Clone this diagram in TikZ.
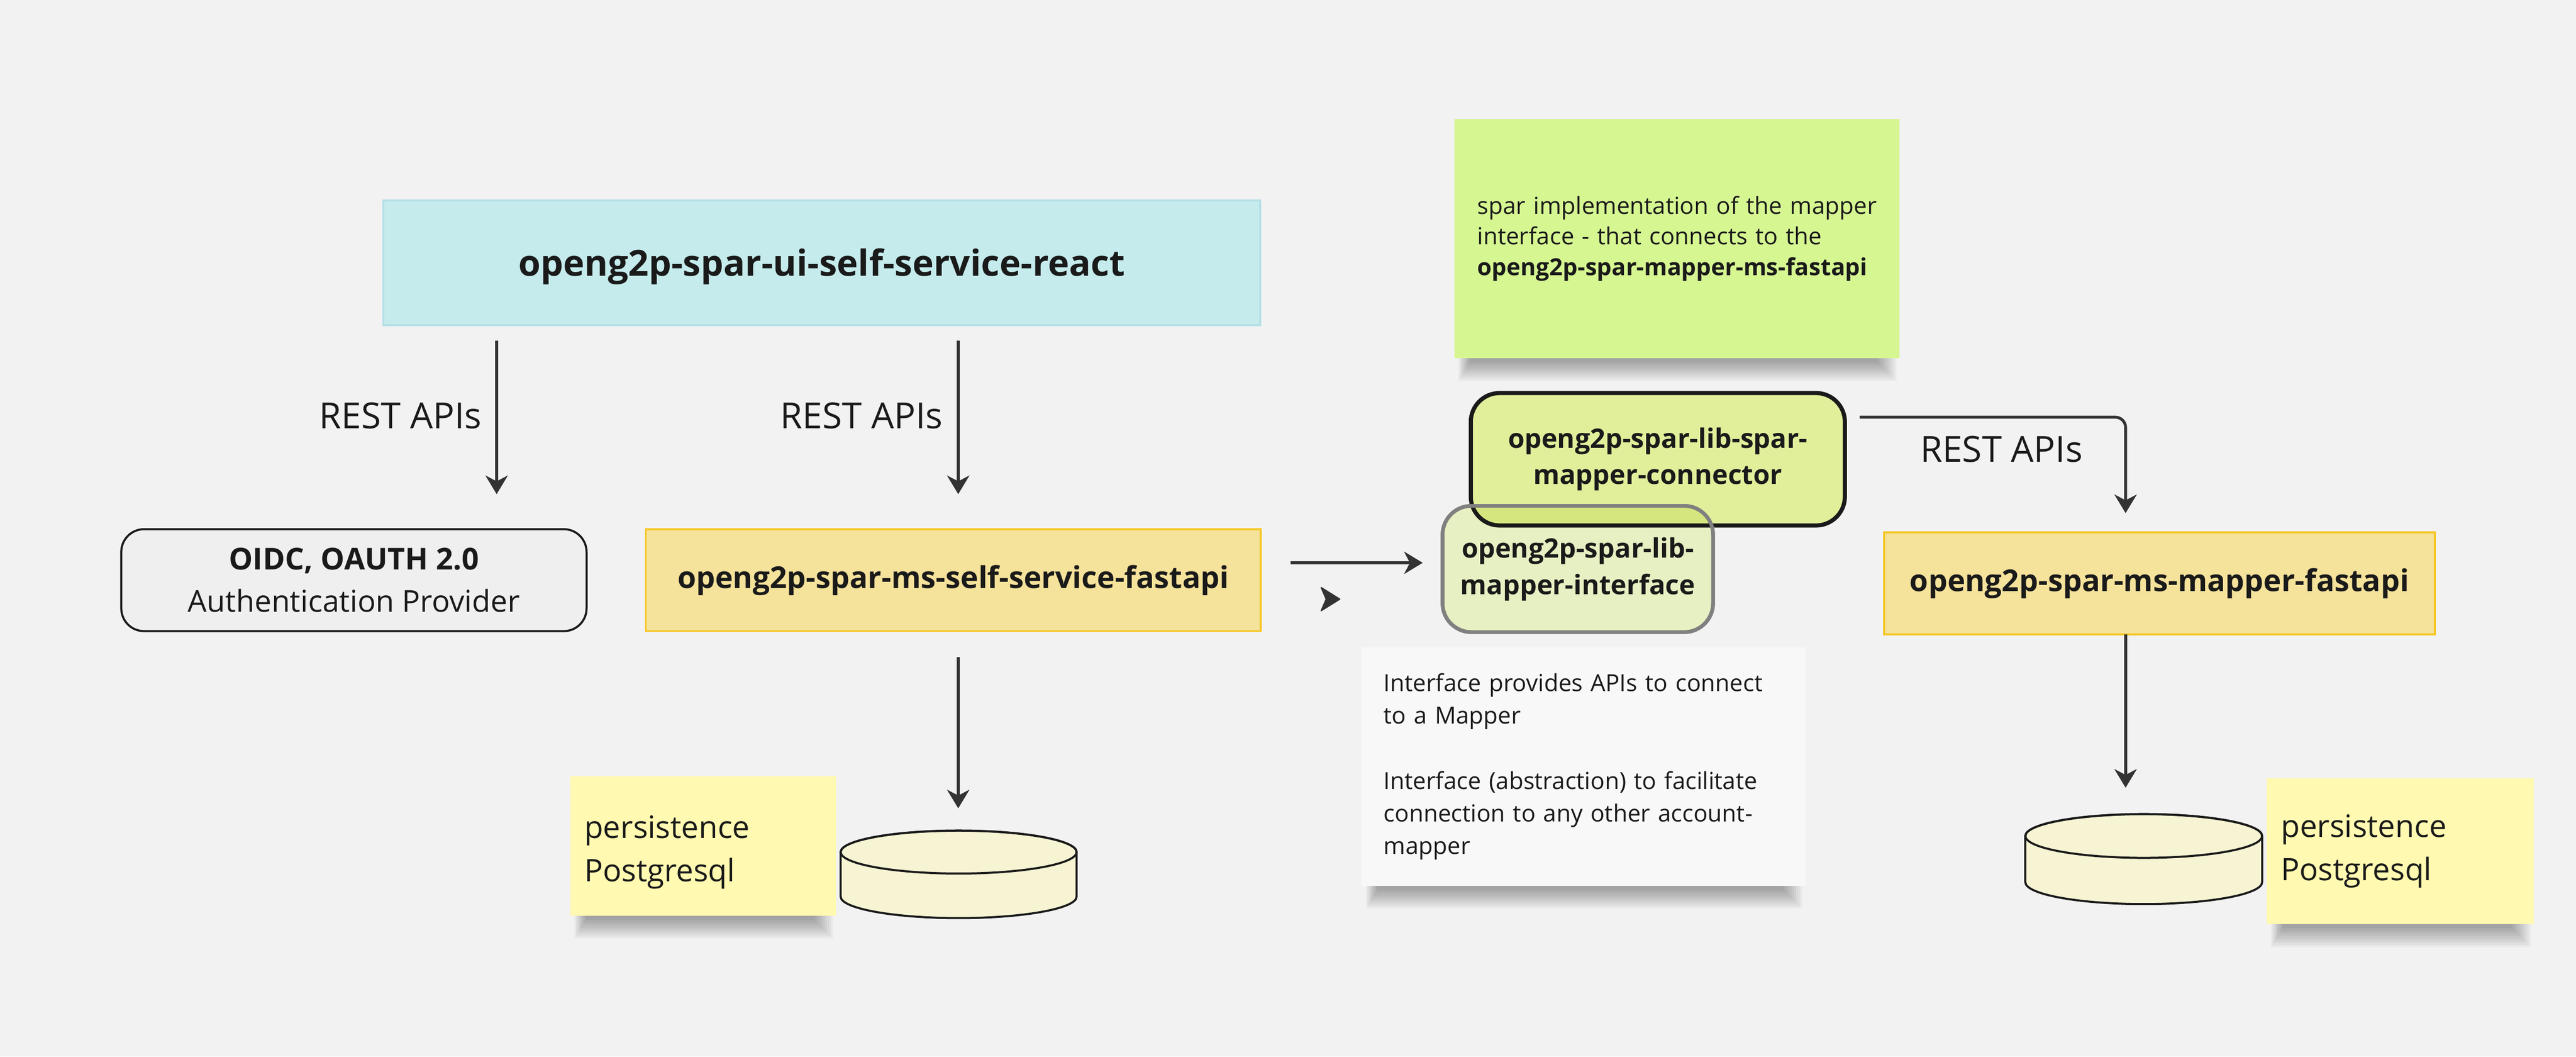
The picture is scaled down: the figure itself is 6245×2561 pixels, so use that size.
\documentclass[tikz,border=0pt]{standalone}
\usepackage{fontspec}
\setmainfont{Open Sans}
\usetikzlibrary{arrows.meta}

\definecolor{bg}{HTML}{F2F2F2}
\definecolor{cyanfill}{HTML}{C5EBEC}
\definecolor{cyandraw}{HTML}{B5E0E6}
\definecolor{yfill}{HTML}{F5E29B}
\definecolor{ydraw}{HTML}{F5C623}
\definecolor{grayfill}{HTML}{EFEFEF}
\definecolor{ink}{HTML}{1A1A1A}
\definecolor{arrowc}{HTML}{333333}
\definecolor{connfill}{HTML}{E1EF9B}
\definecolor{intffill}{HTML}{E7F0C2}
\definecolor{overlapc}{HTML}{D6E67E}
\definecolor{intfdraw}{HTML}{808080}
\definecolor{gsticky}{HTML}{D6F692}
\definecolor{ysticky}{HTML}{FFF9B1}
\definecolor{wnote}{HTML}{F8F8F9}
\definecolor{cylfill}{HTML}{F6F4D3}

\newcommand\noteshadow[3]{%
  \foreach \k in {0,...,9}{%
    \fill[black,opacity=0.035] ({#1+10+\k*3},{#3-6}) rectangle ({#2-8-\k*5},{#3+10+(9-\k)*5});
  }}

\begin{document}
\begin{tikzpicture}[x=0.1pt,y=-0.1pt,
  boxbase/.style={rectangle, outer sep=0pt, inner sep=0pt, text=ink},
  cyanbox/.style={boxbase, fill=cyanfill, draw=cyandraw, line width=0.5pt, font=\fontsize{8.7pt}{10.4pt}\selectfont\bfseries},
  ybox/.style={boxbase, fill=yfill, draw=ydraw, line width=0.45pt, font=\fontsize{7.3pt}{9pt}\selectfont\bfseries},
  oidcbox/.style={boxbase, fill=grayfill, draw=ink, line width=0.5pt, rounded corners=5.5pt, align=center, font=\fontsize{7.3pt}{10.2pt}\selectfont},
  connbox/.style={boxbase, fill=connfill, draw=ink, line width=1pt, rounded corners=7pt, align=center, font=\fontsize{6.5pt}{8.8pt}\selectfont\bfseries},
  intfbox/.style={boxbase, fill=intffill, draw=intfdraw, line width=0.9pt, rounded corners=7pt, align=center, font=\fontsize{6.5pt}{8.9pt}\selectfont\bfseries},
  sticky/.style={boxbase, align=left, fill=ysticky, inner xsep=3.4pt},
  notebox/.style={boxbase, align=left},
  lbl/.style={text=ink, inner sep=0pt, font=\fontsize{8.7pt}{10.4pt}\selectfont},
  arr/.style={draw=arrowc, line width=0.7pt, -{Stealth[length=4.5pt,width=5.4pt,inset=1.4pt]}},
  cyl/.style={draw=ink, line width=0.5pt, fill=cylfill}
]
\useasboundingbox (0,0) rectangle (6245,2561);
\fill[bg] (0,0) rectangle (6245,2561);

% shadows of the notes
\noteshadow{1383}{2028}{2219}
\noteshadow{5496}{6143}{2240}
\noteshadow{3526}{4605}{868}
\noteshadow{3302}{4377}{2147}

% main boxes
\node[cyanbox, minimum width=212.6pt, minimum height=30.3pt, text depth=0.3pt] (ui) at (1992,637) {openg2p-spar-ui-self-service-react};
\node[oidcbox, minimum width=112.8pt, minimum height=24.7pt] (oidc) at (858,1406) {{\bfseries OIDC, OAUTH 2.0}\\Authentication Provider};
\node[ybox, minimum width=149.1pt, minimum height=24.7pt] (ss) at (2311,1406) {openg2p-spar-ms-self-service-fastapi};
\node[ybox, minimum width=133.5pt, minimum height=24.7pt] (mapper) at (5235,1414) {openg2p-spar-ms-mapper-fastapi};

% notes
\node[notebox, fill=gsticky, inner xsep=5.6pt, text width=96.7pt, minimum height=58pt,
      font=\fontsize{5.7pt}{7.4pt}\selectfont] (gnote) at (4065,578)
  {\mbox{spar implementation of the mapper}\\\mbox{interface - that connects to the}\\\mbox{\bfseries openg2p-spar-mapper-ms-fastapi}};
\node[notebox, fill=wnote, inner xsep=5.3pt, text width=96.9pt, minimum height=57.8pt,
      font=\fontsize{5.7pt}{7.9pt}\selectfont] (wnote) at (3839,1858)
  {\mbox{Interface provides APIs to connect}\\\mbox{to a Mapper}\\[7.9pt]\mbox{Interface (abstraction) to facilitate}\\\mbox{connection to any other account-}\\\mbox{mapper}};
\node[sticky, text width=57.7pt, minimum height=33.9pt, font=\fontsize{7.5pt}{10.4pt}\selectfont] (stl) at (1705,2050) {\rule{0pt}{8.6pt}persistence\\Postgresql};
\node[sticky, text width=57.9pt, minimum height=35.3pt, font=\fontsize{7.5pt}{10.5pt}\selectfont] (str) at (5819,2063) {persistence\\Postgresql};

% connector and interface
\node[connbox, minimum width=90.7pt, minimum height=32.1pt] (conn) at (4019,1113) {openg2p-spar-lib-spar-\\mapper-connector};
\node[intfbox, minimum width=65.6pt, minimum height=30.6pt] (intf) at (3825,1379) {openg2p-spar-lib-\\mapper-interface};
\begin{scope}
  \clip[rounded corners=7pt] (intf.south west) rectangle (intf.north east);
  \fill[overlapc, rounded corners=7pt] (conn.south west) rectangle (conn.north east);
  \draw[ink, line width=1pt, rounded corners=7pt] (conn.south west) rectangle (conn.north east);
\end{scope}
\draw[intfdraw, line width=0.9pt, rounded corners=7pt] (intf.south west) rectangle (intf.north east);

% cylinders
\draw[cyl] (2038,2065) -- (2038,2173) arc[start angle=180,end angle=360,x radius=28.6pt,y radius=5.2pt]
  -- (2610,2065) arc[start angle=0,end angle=180,x radius=28.6pt,y radius=5.2pt] -- cycle;
\draw[ink, line width=0.5pt] (2324,2065) ellipse [x radius=28.6pt, y radius=5.2pt];
\coordinate (cylLtop) at (2323,2013);
\draw[cyl] (4910,2026) -- (4910,2138) arc[start angle=180,end angle=360,x radius=28.7pt,y radius=5.3pt]
  -- (5484,2026) arc[start angle=0,end angle=180,x radius=28.7pt,y radius=5.3pt] -- cycle;
\draw[ink, line width=0.5pt] (5197,2026) ellipse [x radius=28.7pt, y radius=5.3pt];
\coordinate (cylRtop) at (5153,1973);

% helper coordinates for connector positions
\coordinate (c1) at (1204,0);
\coordinate (c2) at (2323,0);
\coordinate (c4) at (0,1364);
\coordinate (c5) at (0,1011);
\coordinate (c6) at (5153,0);

% connectors
\draw[arr, shorten <=3.7pt, shorten >=8.5pt] (ui.south -| c1) -- (oidc.north -| c1);
\draw[arr, shorten <=3.7pt, shorten >=8.5pt] (ui.south -| c2) -- (ss.north -| c2);
\draw[arr, shorten <=6.3pt, shorten >=5.4pt] (ss.south -| c2) -- (cylLtop);
\draw[arr, shorten <=7.2pt, shorten >=4.8pt] (ss.east |- c4) -- (intf.west |- c4);
\draw[arr, rounded corners=2.5pt, shorten <=3.6pt, shorten >=4.7pt] (conn.east |- c5) -| (mapper.north -| c6);
\draw[arr, shorten >=6.4pt] (mapper.south -| c6) -- (cylRtop);

% stray arrowhead
\fill[arrowc, draw=arrowc, line width=0.3pt, line join=round] (3248,1452) -- (3203,1424) -- (3215,1452) -- (3203,1480) -- cycle;

% labels
\node[lbl] (l1) at (971,1007) {REST APIs};
\node[lbl] (l2) at (2089,1007) {REST APIs};
\node[lbl] (l3) at (4852,1089) {REST APIs};
\end{tikzpicture}
\end{document}
